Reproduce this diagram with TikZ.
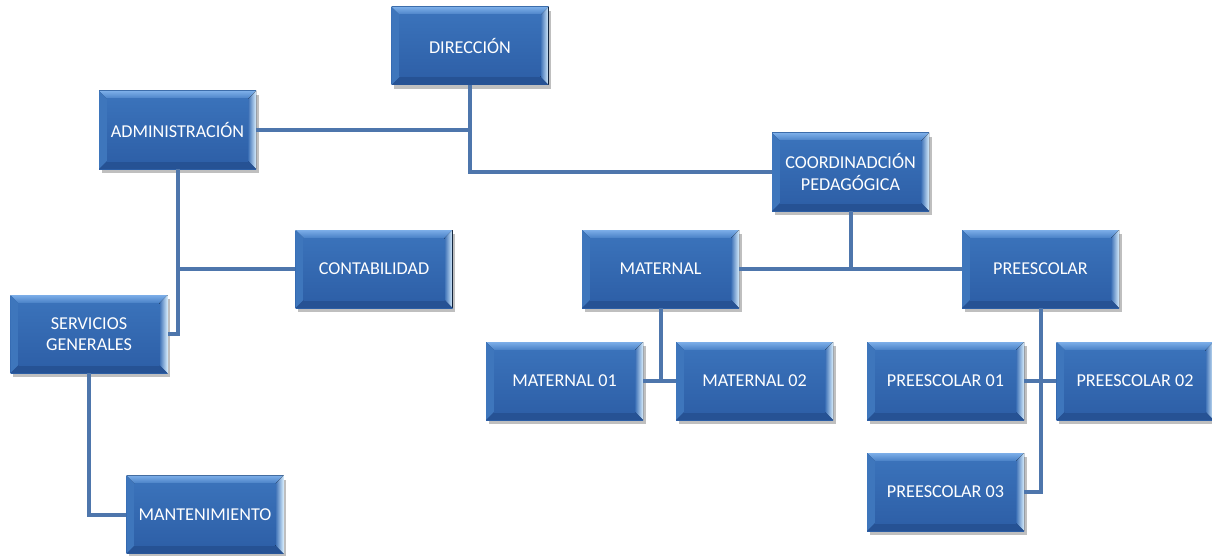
\documentclass[tikz,border=0pt]{standalone}
\usepackage{fontspec}
\setmainfont{Carlito}
\usetikzlibrary{calc,shadows}
\definecolor{facetop}{RGB}{58,114,186}
\definecolor{facebot}{RGB}{46,96,168}
\definecolor{bevtopa}{RGB}{124,174,232}
\definecolor{bevtopb}{RGB}{72,128,198}
\definecolor{bevleft}{RGB}{62,118,188}
\definecolor{bevrighta}{RGB}{60,112,182}
\definecolor{bevrightb}{RGB}{214,236,252}
\definecolor{bevbot}{RGB}{38,82,148}
\definecolor{linkc}{RGB}{78,118,172}
\tikzset{
  orgbox/.style={rectangle, minimum width=117.75pt, minimum height=58.5pt, inner sep=0pt,
    text=white, align=center, font=\fontsize{13.6pt}{16pt}\selectfont,
    top color=facetop, bottom color=facebot,
    drop shadow={shadow xshift=2pt, shadow yshift=-3pt, fill=black, opacity=0.25},
    path picture={
      \coordinate (NW) at (path picture bounding box.north west);
      \coordinate (NE) at (path picture bounding box.north east);
      \coordinate (SW) at (path picture bounding box.south west);
      \coordinate (SE) at (path picture bounding box.south east);
      \fill[top color=bevtopa, bottom color=bevtopb] (NW) -- (NE) -- ($(NE)+(-6pt,-6pt)$) -- ($(NW)+(6pt,-6pt)$) -- cycle;
      \fill[bevleft] (NW) -- ($(NW)+(6pt,-6pt)$) -- ($(SW)+(6pt,6pt)$) -- (SW) -- cycle;
      \fill[left color=bevrighta, right color=bevrightb] (NE) -- ($(NE)+(-6pt,-6pt)$) -- ($(SE)+(-6pt,6pt)$) -- (SE) -- cycle;
      \fill[bevbot] (SW) -- ($(SW)+(6pt,6pt)$) -- ($(SE)+(-6pt,6pt)$) -- (SE) -- cycle;
      \fill[top color=facetop, bottom color=facebot] ($(NW)+(6pt,-6pt)$) rectangle ($(SE)+(-6pt,6pt)$);
    }},
  link/.style={draw=linkc, line width=3pt}
}
\begin{document}
\begin{tikzpicture}[x=0.75pt,y=-0.75pt]
\useasboundingbox (0,0) rectangle (1212,556);
\node[orgbox] (dir) at (470,46) {DIRECCIÓN};
\node[orgbox] (adm) at (177.5,130) {ADMINISTRACIÓN};
\node[orgbox] (coord) at (850.5,172) {COORDINADCIÓN\\PEDAGÓGICA};
\node[orgbox] (cont) at (374,269) {CONTABILIDAD};
\node[orgbox] (mat) at (660.5,269) {MATERNAL};
\node[orgbox] (pre) at (1040.5,269) {PREESCOLAR};
\node[orgbox] (serv) at (89,334) {SERVICIOS\\GENERALES};
\node[orgbox] (m01) at (564.5,381) {MATERNAL 01};
\node[orgbox] (m02) at (754.5,381) {MATERNAL 02};
\node[orgbox] (p01) at (945.5,381) {PREESCOLAR 01};
\node[orgbox] (p02) at (1135,381) {PREESCOLAR 02};
\node[orgbox] (p03) at (945.5,492) {PREESCOLAR 03};
\node[orgbox] (mant) at (205,514.5) {MANTENIMIENTO};
\draw[link] (dir.south) |- (coord.west);
\draw[link] (adm.east) -- (adm.east -| dir.south);
\draw[link] (adm.south) |- (serv.east);
\draw[link] (cont.west) -- (cont.west -| adm.south);
\draw[link] (coord.south) -- (coord.south |- mat.east);
\draw[link] (mat.east) -- (pre.west);
\draw[link] (mat.south) -- (mat.south |- m01.east);
\draw[link] (m01.east) -- (m02.west);
\draw[link] (pre.south) |- (p03.east);
\draw[link] (p01.east) -- (p02.west);
\draw[link] (serv.south) |- (mant.west);
\end{tikzpicture}
\end{document}
